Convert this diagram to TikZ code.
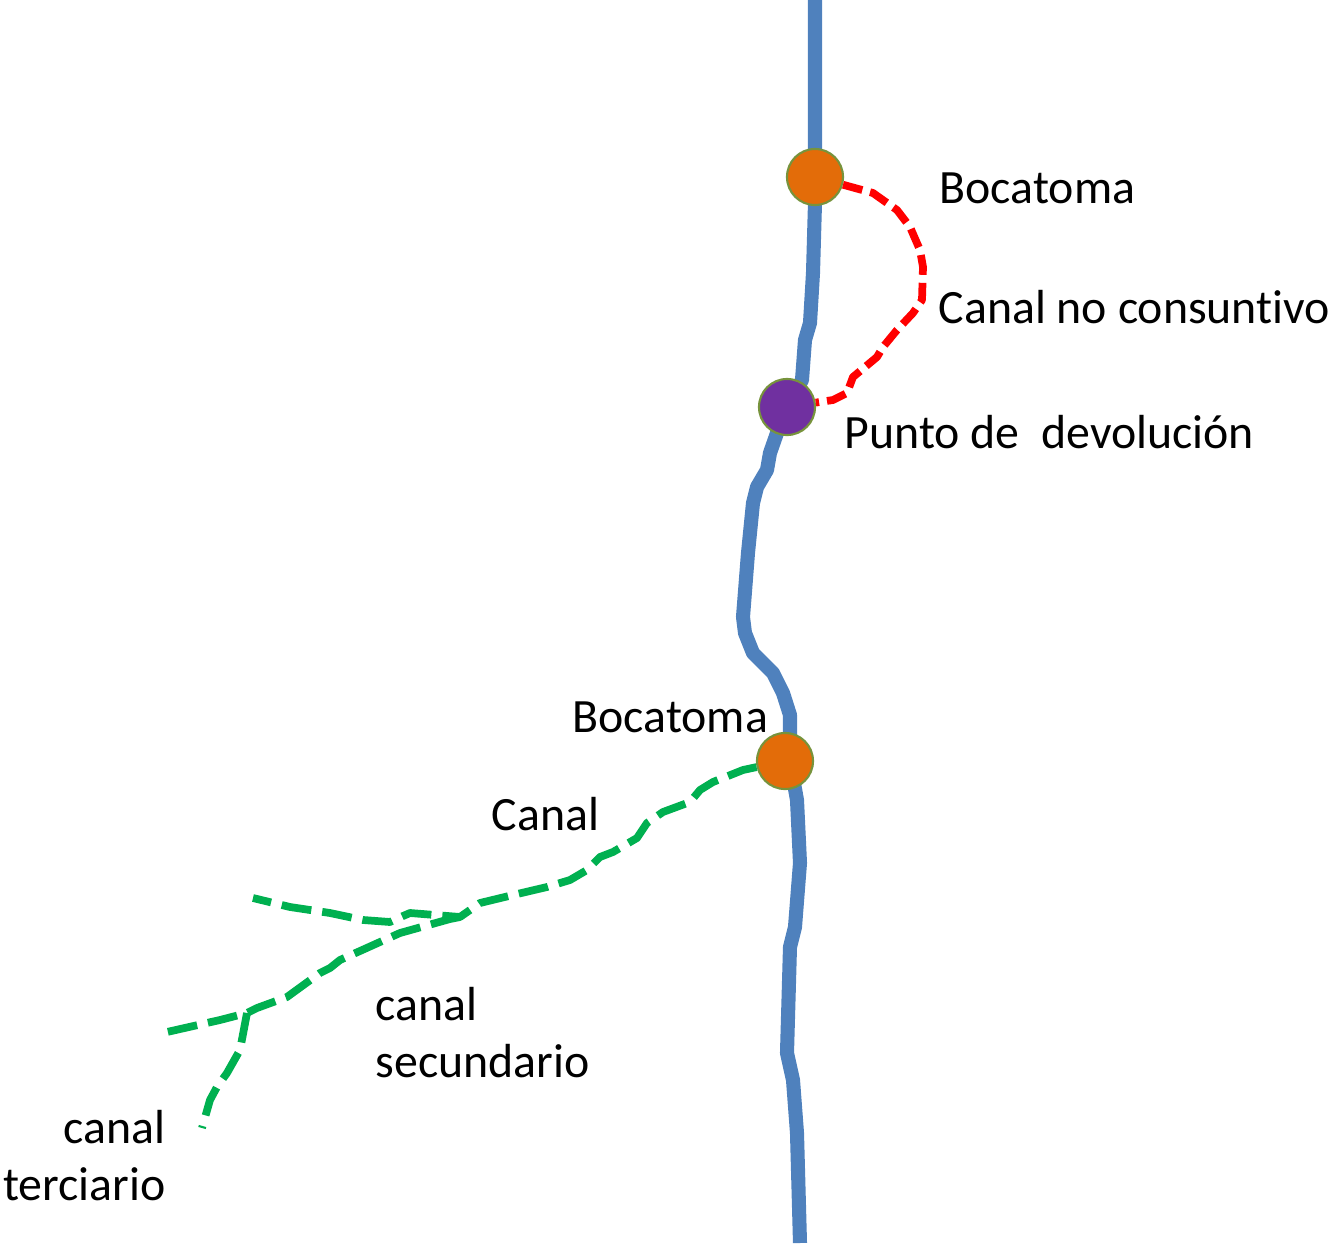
\documentclass[tikz,border=0pt]{standalone}
\usepackage{fontspec}
\setmainfont{Carlito}[Ligatures=NoCommon]
\usetikzlibrary{positioning}

\definecolor{rio}{HTML}{4F81BD}
\definecolor{tomaorange}{HTML}{E36C09}
\definecolor{devpurple}{HTML}{7030A0}
\definecolor{rand}{HTML}{77933C}
\definecolor{canalgreen}{HTML}{00B050}

\begin{document}
\begin{tikzpicture}[x=0.01cm, y=-0.01cm]

\tikzset{
  river/.style={draw=rio, line width=4pt, line join=round},
  toma/.style={circle, draw=rand, line width=0.6pt, fill=tomaorange, minimum size=0.56cm, inner sep=0pt},
  retorno/.style={circle, draw=rand, line width=0.6pt, fill=devpurple, minimum size=0.56cm, inner sep=0pt},
  nocons/.style={draw=red, line width=2.2pt, dash pattern=on 0.2cm off 0.08cm, line join=round},
  riego/.style={draw=canalgreen, line width=2.2pt, dash pattern=on 0.3cm off 0.11cm, line join=round},
  label/.style={anchor=base west, inner sep=0pt, font=\fontsize{13.6pt}{16.2pt}\selectfont}
}

\useasboundingbox (0,0) rectangle (1329,1245);

% --- Fluss ---
\draw[river] (815,0) -- (815,203) -- (813,273) -- (810,323) -- (805,340) -- (802,380)
  -- (787,407) -- (777,433) -- (770,453) -- (767,470) -- (757,487) -- (753,503)
  -- (748,553) -- (743,617) -- (745,633) -- (753,653) -- (773,673) -- (783,693)
  -- (790,715) -- (790,761) -- (797,800) -- (800,863) -- (795,927) -- (790,947)
  -- (787,1053) -- (793,1080) -- (797,1133) -- (800,1243);

% --- Knoten ---
\node[toma] (bt1) at (815,177) {};
\node[retorno] (dev) at (787,407) {};
\node[toma] (bt2) at (785,761) {};

\coordinate (abzw) at (460,917);
\coordinate (gabel) at (247,1013);
\coordinate (endeA) at (253,898);
\coordinate (endeB) at (167,1032);
\coordinate (endeC) at (202,1128);

% --- Kanaele ---
\draw[nocons] (bt1) -- (873,193) -- (897,210) -- (910,227) -- (920,250) -- (923,267)
  -- (922,300) -- (913,313) -- (897,330) -- (883,347) -- (877,357) -- (853,377)
  -- (847,393) -- (833,400) -- (dev);

\draw[riego] (bt2) -- (743,770) -- (713,782) -- (700,790) -- (690,802) -- (663,812)
  -- (647,823) -- (637,838) -- (613,852) -- (600,857) -- (587,870) -- (570,880)
  -- (547,887) -- (513,895) -- (480,903) -- (abzw) -- (410,913) -- (403,916)
  -- (390,922) -- (363,920) -- (330,913) -- (290,907) -- (endeA);

\draw[riego] (abzw) -- (450,919) -- (400,933) -- (340,960) -- (330,968) -- (320,973)
  -- (287,997) -- (257,1008) -- (gabel) -- (220,1020) -- (endeB);

\draw[riego] (gabel) -- (240,1050) -- (227,1073) -- (217,1087) -- (210,1100) -- (endeC);

% --- Beschriftungen ---
\node[label] (l1) at (939,203) {Bocatoma};
\node[label] (l2) at (938,323) {Canal no consuntivo};
\node[label] (l3) at (844,448) {Punto de \ devolución};
\node[label] (l4) at (572,732) {Bocatoma};
\node[label] (l5) at (491,830) {Canal};
\node[label, align=left] (l6) at (375,1077) {canal\\secundario};
\node[label, anchor=base east, align=right] (l7) at (166,1200) {canal\\terciario};

\end{tikzpicture}
\end{document}
